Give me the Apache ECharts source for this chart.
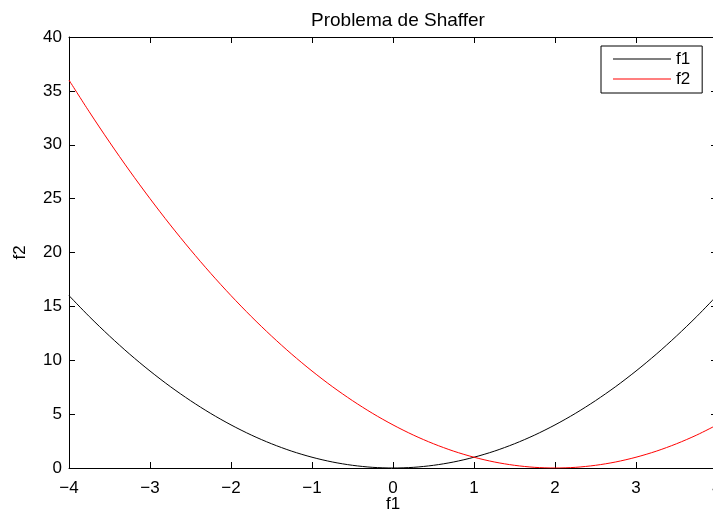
<!DOCTYPE html>
<html><head><meta charset="utf-8">
<script src="https://cdn.jsdelivr.net/npm/echarts@6/dist/echarts.min.js"></script>
<style>html,body{margin:0;padding:0;background:#fff}#c{width:713px;height:509px}</style>
</head><body><div id="c"></div>
<script>
const xs = [-4,-3.75,-3.5,-3.25,-3,-2.75,-2.5,-2.25,-2,-1.75,-1.5,-1.25,-1,-0.75,-0.5,-0.25,0,0.25,0.5,0.75,1,1.25,1.5,1.75,2,2.25,2.5,2.75,3,3.25,3.5,3.75,4];
const f1 = [16,14.06,12.25,10.56,9,7.56,6.25,5.06,4,3.06,2.25,1.56,1,0.56,0.25,0.06,0,0.06,0.25,0.56,1,1.56,2.25,3.06,4,5.06,6.25,7.56,9,10.56,12.25,14.06,16];
const f2 = [36,33.06,30.25,27.56,25,22.56,20.25,18.06,16,14.06,12.25,10.56,9,7.56,6.25,5.06,4,3.06,2.25,1.56,1,0.56,0.25,0.06,0,0.06,0.25,0.56,1,1.56,2.25,3.06,4];
const seriesNames = ['f1','f2'];
const titleText = 'Problema de Shaffer';
const xName = 'f1', yName = 'f2';

const font = 'Liberation Sans, Arial, sans-serif';
const fmt = v => String(v).replace('-', '\u2212');
const ch = echarts.init(document.getElementById('c'), null, {renderer:'canvas'});
const axCommon = {
  axisLine:{show:true,onZero:false,lineStyle:{color:'#000',width:1}},
  axisTick:{show:true,inside:true,length:6,lineStyle:{color:'#000'}},
  splitLine:{show:false}
};
ch.setOption({
  animation:false,
  backgroundColor:'#fff',
  title:{text:titleText,left:306,top:6,textStyle:{fontFamily:font,fontSize:19,fontWeight:'normal',color:'#000'}},
  grid:{left:69,top:37,width:648,height:431,containLabel:false,outerBoundsMode:'none'},
  legend:{
    orient:'vertical',left:601,top:46,
    padding:[4,12,5,12],itemGap:2,itemWidth:58,itemHeight:1,icon:'rect',
    borderColor:'#000',borderWidth:1,
    textStyle:{fontFamily:font,fontSize:17,color:'#000',padding:[0,0,0,0],lineHeight:18},
    data:seriesNames
  },
  xAxis:[
    Object.assign({type:'value',min:-4,max:4,interval:1,position:'bottom',
      name:xName,nameLocation:'middle',nameGap:28,nameMoveOverlap:false,
      nameTextStyle:{fontFamily:font,fontSize:17,color:'#000'},
      axisLabel:{fontFamily:font,fontSize:17,color:'#000',margin:12,formatter:fmt}},axCommon),
    Object.assign({type:'value',min:-4,max:4,interval:1,position:'top',axisLabel:{show:false}},axCommon)
  ],
  yAxis:[
    Object.assign({type:'value',min:0,max:40,interval:5,position:'left',
      name:yName,nameLocation:'middle',nameGap:40,nameMoveOverlap:false,
      nameTextStyle:{fontFamily:font,fontSize:17,color:'#000'},
      axisLabel:{fontFamily:font,fontSize:17,color:'#000',margin:7,formatter:fmt}},axCommon),
    Object.assign({type:'value',min:0,max:40,interval:5,position:'right',axisLabel:{show:false}},axCommon)
  ],
  series:[
    {name:seriesNames[0],type:'line',data:xs.map((x,i)=>[x,f1[i]]),smooth:0.3,symbol:'none',lineStyle:{color:'#000',width:1},itemStyle:{color:'#000'}},
    {name:seriesNames[1],type:'line',data:xs.map((x,i)=>[x,f2[i]]),smooth:0.3,symbol:'none',lineStyle:{color:'#ff0000',width:1},itemStyle:{color:'#ff0000'}}
  ]
});
</script></body></html>
